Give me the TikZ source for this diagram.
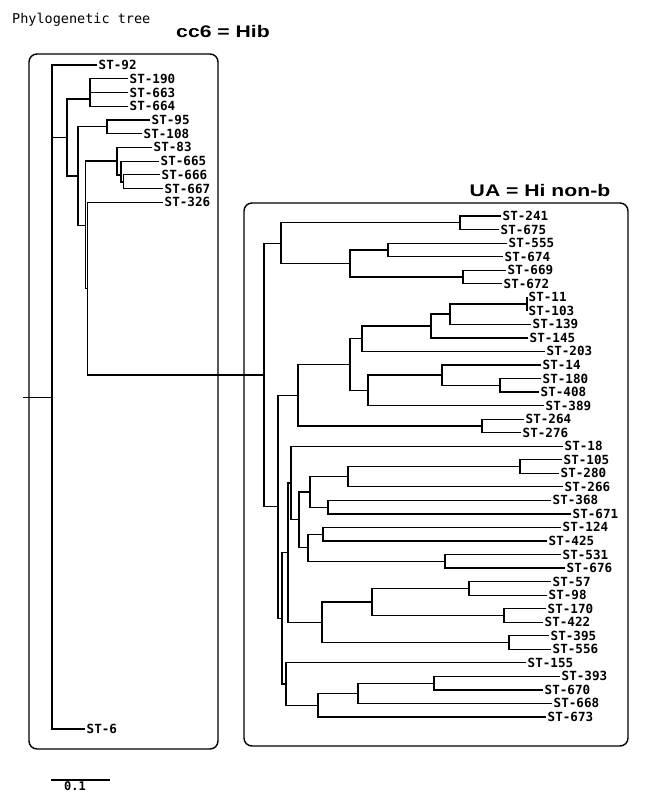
\documentclass[tikz,border=0pt]{standalone}
\usepackage{fontspec}
\newfontfamily\monofont{DejaVu Sans Mono}
\newfontfamily\headfont{Liberation Sans}
\usetikzlibrary{positioning}
\newcommand{\leaffont}{\monofont\bfseries\fontsize{12.6}{14}\selectfont}

\begin{document}
\begin{tikzpicture}[x=1pt, y=-1pt,
  branch/.style={line width=1.2pt},
  leaf/.style={anchor=west, inner sep=1.5pt, font=\leaffont},
  group/.style={rounded corners=8pt, line width=1.4pt},
  heading/.style={font=\headfont\bfseries\fontsize{16.8}{18}\selectfont}]
  \useasboundingbox (0,0) rectangle (658,800);
  % Headings
  \node[anchor=west, inner sep=0pt, font=\monofont\fontsize{13.5}{14}\selectfont] (title) at (12,20) {Phylogenetic tree};
  \node[heading] (hib) at (223,31) {\scalebox{1.26}[1]{cc6 = Hib}};
  \node[heading] (nonb) at (540,190) {\scalebox{1.26}[1]{UA = Hi non-b}};
  % Group frames
  \draw[group] (29,54) rectangle (218,749);
  \draw[group] (244,203) rectangle (628,746);
  % Leaves, cc6 = Hib
  \node[leaf] (st92) at (97,65) {ST-92};
  \node[leaf] (st190) at (128,78.7) {ST-190};
  \node[leaf] (st663) at (128,92.5) {ST-663};
  \node[leaf] (st664) at (128,106.2) {ST-664};
  \node[leaf] (st95) at (150,119.9) {ST-95};
  \node[leaf] (st108) at (142,133.7) {ST-108};
  \node[leaf] (st83) at (152,147.4) {ST-83};
  \node[leaf] (st665) at (159,161.1) {ST-665};
  \node[leaf] (st666) at (160,174.8) {ST-666};
  \node[leaf] (st667) at (163,188.6) {ST-667};
  \node[leaf] (st326) at (163,202.3) {ST-326};
  \node[leaf] (st6) at (85,729) {ST-6};
  % Leaves, UA = Hi non-b
  \node[leaf] (st241) at (501,216) {ST-241};
  \node[leaf] (st675) at (499,229.5) {ST-675};
  \node[leaf] (st555) at (507,243.1) {ST-555};
  \node[leaf] (st674) at (503,256.6) {ST-674};
  \node[leaf] (st669) at (506,270.2) {ST-669};
  \node[leaf] (st672) at (502,283.7) {ST-672};
  \node[leaf] (st11) at (527,297.2) {ST-11};
  \node[leaf] (st103) at (527,310.8) {ST-103};
  \node[leaf] (st139) at (531,324.3) {ST-139};
  \node[leaf] (st145) at (528,337.9) {ST-145};
  \node[leaf] (st203) at (545,351.4) {ST-203};
  \node[leaf] (st14) at (541,364.9) {ST-14};
  \node[leaf] (st180) at (541,378.5) {ST-180};
  \node[leaf] (st408) at (539,392) {ST-408};
  \node[leaf] (st389) at (544,405.6) {ST-389};
  \node[leaf] (st264) at (524,419.1) {ST-264};
  \node[leaf] (st276) at (521,432.6) {ST-276};
  \node[leaf] (st18) at (563,446.2) {ST-18};
  \node[leaf] (st105) at (562,459.7) {ST-105};
  \node[leaf] (st280) at (559,473.3) {ST-280};
  \node[leaf] (st266) at (563,486.8) {ST-266};
  \node[leaf] (st368) at (551,500.3) {ST-368};
  \node[leaf] (st671) at (571,513.9) {ST-671};
  \node[leaf] (st124) at (561,527.4) {ST-124};
  \node[leaf] (st425) at (547,541) {ST-425};
  \node[leaf] (st531) at (561,554.5) {ST-531};
  \node[leaf] (st676) at (565,568) {ST-676};
  \node[leaf] (st57) at (551,581.6) {ST-57};
  \node[leaf] (st98) at (547,595.1) {ST-98};
  \node[leaf] (st170) at (546,608.7) {ST-170};
  \node[leaf] (st422) at (543,622.2) {ST-422};
  \node[leaf] (st395) at (549,635.7) {ST-395};
  \node[leaf] (st556) at (551,649.3) {ST-556};
  \node[leaf] (st155) at (526,662.8) {ST-155};
  \node[leaf] (st393) at (560,676.4) {ST-393};
  \node[leaf] (st670) at (543,689.9) {ST-670};
  \node[leaf] (st668) at (552,703.4) {ST-668};
  \node[leaf] (st673) at (546,717) {ST-673};
  % Inner nodes, left tree
  \coordinate (stub) at (23,397.5);
  \coordinate (root) at (52,397.5);
  \coordinate (a) at (67,137.5);
  \coordinate (b) at (90,99);
  \coordinate (c) at (78,176);
  \coordinate (e) at (107,126.8);
  \coordinate (d1) at (85.5,225.3);
  \coordinate (f) at (117,161);
  \coordinate (g1) at (121,175);
  \coordinate (g2) at (123.5,182);
  \coordinate (d2) at (87.5,288.6);
  % Inner nodes, right tree
  \coordinate (ua) at (264,375);
  \coordinate (t) at (281,243.1);
  \coordinate (u) at (460,222.8);
  \coordinate (v) at (350,263.4);
  \coordinate (w) at (388,249.9);
  \coordinate (m) at (463,277);
  \coordinate (s) at (278,506.8);
  \coordinate (p) at (298,395.2);
  \coordinate (q) at (350,364.5);
  \coordinate (q1) at (362,338.7);
  \coordinate (q2) at (431,326);
  \coordinate (q3) at (450,314);
  \coordinate (z) at (527,304);
  \coordinate (h) at (368,390.3);
  \coordinate (h1) at (442,375);
  \coordinate (h2) at (500,385.2);
  \coordinate (pp) at (482,425.9);
  \coordinate (s2) at (282,618.3);
  \coordinate (s3) at (288,552.6);
  \coordinate (s4) at (291,483);
  \coordinate (s5) at (299,519.8);
  \coordinate (s6) at (310,491.9);
  \coordinate (s7) at (348,476.7);
  \coordinate (s8) at (520,466.5);
  \coordinate (s9) at (328,507.1);
  \coordinate (s10) at (308,547.7);
  \coordinate (s11) at (323,534.2);
  \coordinate (s12) at (445,561.3);
  \coordinate (s13) at (322,622.2);
  \coordinate (s14) at (372,601.9);
  \coordinate (s15) at (469,588.4);
  \coordinate (s16) at (504,615.4);
  \coordinate (s17) at (509,642.5);
  \coordinate (s18) at (286,684);
  \coordinate (s19) at (318,705.1);
  \coordinate (s20) at (358,693.3);
  \coordinate (s21) at (434,683.1);
  % Branches, left tree
  \draw[branch] (stub) -- (root);
  \draw[branch] (root) |- (st92.west) (root) |- (a) (root) |- (st6.west);
  \draw[branch] (a) |- (b) (a) |- (c);
  \draw[branch] (b) |- (st190.west) (b) |- (st663.west) (b) |- (st664.west);
  \draw[branch] (c) |- (e) (c) |- (d1);
  \draw[branch] (e) |- (st95.west) (e) |- (st108.west);
  \draw[branch] (d1) |- (f) (d1) |- (d2);
  \draw[branch] (f) |- (st83.west) (f) |- (g1);
  \draw[branch] (g1) |- (st665.west) (g1) |- (g2);
  \draw[branch] (g2) |- (st666.west) (g2) |- (st667.west);
  \draw[branch] (d2) |- (st326.west) (d2) |- (ua);
  % Branches, right tree
  \draw[branch] (ua) |- (t) (ua) |- (s);
  \draw[branch] (t) |- (u) (t) |- (v);
  \draw[branch] (u) |- (st241.west) (u) |- (st675.west);
  \draw[branch] (v) |- (w) (v) |- (m);
  \draw[branch] (w) |- (st555.west) (w) |- (st674.west);
  \draw[branch] (m) |- (st669.west) (m) |- (st672.west);
  \draw[branch] (s) |- (p) (s) |- (s2);
  \draw[branch] (p) |- (q) (p) |- (pp);
  \draw[branch] (q) |- (q1) (q) |- (h);
  \draw[branch] (q1) |- (q2) (q1) |- (st203.west);
  \draw[branch] (q2) |- (q3) (q2) |- (st145.west);
  \draw[branch] (q3) |- (z) (q3) |- (st139.west);
  \draw[branch] (z) |- (st11.west) (z) |- (st103.west);
  \draw[branch] (h) |- (h1) (h) |- (st389.west);
  \draw[branch] (h1) |- (st14.west) (h1) |- (h2);
  \draw[branch] (h2) |- (st180.west) (h2) |- (st408.west);
  \draw[branch] (pp) |- (st264.west) (pp) |- (st276.west);
  \draw[branch] (s2) |- (s3) (s2) |- (s18);
  \draw[branch] (s3) |- (s4) (s3) |- (s13);
  \draw[branch] (s4) |- (st18.west) (s4) |- (s5);
  \draw[branch] (s5) |- (s6) (s5) |- (s10);
  \draw[branch] (s6) |- (s7) (s6) |- (s9);
  \draw[branch] (s7) |- (s8) (s7) |- (st266.west);
  \draw[branch] (s8) |- (st105.west) (s8) |- (st280.west);
  \draw[branch] (s9) |- (st368.west) (s9) |- (st671.west);
  \draw[branch] (s10) |- (s11) (s10) |- (s12);
  \draw[branch] (s11) |- (st124.west) (s11) |- (st425.west);
  \draw[branch] (s12) |- (st531.west) (s12) |- (st676.west);
  \draw[branch] (s13) |- (s14) (s13) |- (s17);
  \draw[branch] (s14) |- (s15) (s14) |- (s16);
  \draw[branch] (s15) |- (st57.west) (s15) |- (st98.west);
  \draw[branch] (s16) |- (st170.west) (s16) |- (st422.west);
  \draw[branch] (s17) |- (st395.west) (s17) |- (st556.west);
  \draw[branch] (s18) |- (st155.west) (s18) |- (s19);
  \draw[branch] (s19) |- (s20) (s19) |- (st673.west);
  \draw[branch] (s20) |- (s21) (s20) |- (st668.west);
  \draw[branch] (s21) |- (st393.west) (s21) |- (st670.west);
  % Scale bar
  \coordinate (bar0) at (51,780);
  \coordinate (bar1) at (110,780);
  \coordinate (barmid) at (75,780);
  \draw[branch] (bar0) -- (bar1);
  \node[below=1.5pt of barmid, inner sep=0pt, font=\monofont\bfseries\fontsize{12}{12}\selectfont] (barlabel) {0.1};
\end{tikzpicture}
\end{document}
